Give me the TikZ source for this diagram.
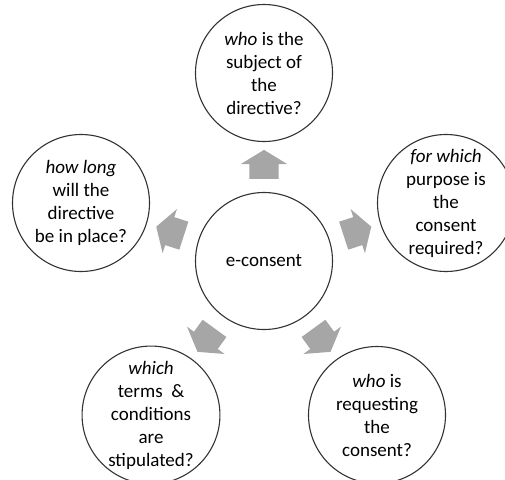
\documentclass[tikz,border=0pt]{standalone}
\usepackage{fontspec}
\setmainfont{Carlito}
\usetikzlibrary{shapes.arrows,calc}
\tikzstyle{question}=[circle,draw=black!80,line width=1.1pt,minimum size=137pt,inner sep=0pt,align=center,font=\fontsize{19}{23}\selectfont]
\tikzstyle{pointer}=[single arrow,fill=black!35,minimum height=29pt,single arrow head extend=8.5pt,single arrow tip angle=117,inner xsep=0pt,inner ysep=14.5pt]

\begin{document}
\begin{tikzpicture}[x=1pt,y=-1pt]
	\useasboundingbox (0,0) rectangle (505,479);
	\clip (0,0) rectangle (505,479);

	% First the hub and the questions round it
	\node[question] (hub) at (264,261) {e-consent};
	\foreach \pos/\name/\words in {{(264,73)/subject/{\textit{who} is the\\subject of\\the\\directive?}},
									{(446,203)/purpose/{\textit{for which}\\purpose is\\the\\consent\\required?}},
									{(377,415)/requester/{\textit{who} is\\requesting\\the\\consent?}},
									{(151,415)/terms/{\textit{which}\\terms\ \ \&\\conditions\\are\\stipulated?}},
									{(81,203)/duration/{\textit{how long}\\will the\\directive\\be in place?}}}
	\node[question] (\name) at \pos {\words};

	% Then the block arrows pointing outwards
	\foreach \name/\ang in {subject/90, purpose/18, requester/-54, terms/-126, duration/162}
	\node[pointer, rotate=\ang] at ($(hub)!0.49!(\name)$) {};

\end{tikzpicture}
\end{document}
